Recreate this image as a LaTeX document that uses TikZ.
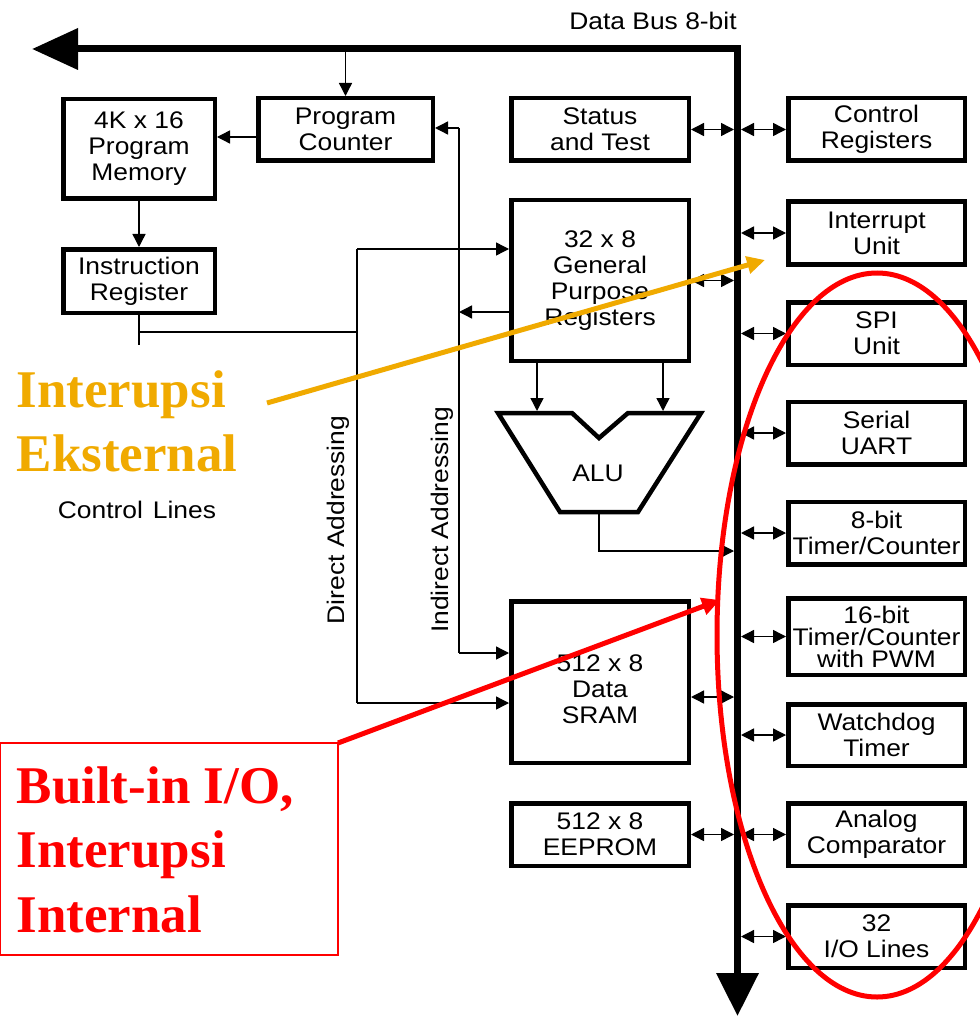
\documentclass[tikz,border=0pt]{standalone}
\usepackage{fontspec}
\setmainfont{Liberation Sans}[FakeStretch=1.1]
\newfontfamily\annofont{Liberation Serif}
\usetikzlibrary{arrows.meta}
\definecolor{annoorange}{RGB}{240,170,0}
\definecolor{annored}{RGB}{255,0,0}
\begin{document}
\begin{tikzpicture}[x=1pt,y=-1pt,line width=1.4pt,
  font=\fontsize{24}{26}\selectfont,
  box/.style={draw,line width=4.5pt,fill=white,inner sep=0pt,align=center},
  rbox/.style={box,minimum width=176.5pt,minimum height=62.5pt},
  lbox/.style={box,minimum width=177.5pt},
  arr/.style={-{Triangle[length=13pt,width=13pt]}},
  darr/.style={{Triangle[length=13pt,width=13pt]}-{Triangle[length=13pt,width=13pt]}},
  busline/.style={line width=7pt,line join=miter,{Triangle[length=46pt,width=40pt]}-{Triangle[length=43pt,width=41pt]}},
  annotext/.style={font=\annofont\bfseries\fontsize{53}{60}\selectfont,inner sep=0pt,anchor=base west},
  annoarr/.style={line width=5pt,-{Triangle[length=18pt,width=17pt]}}]
\fill[white] (0,0) rectangle (979,1016);
\useasboundingbox (0,0) rectangle (979,1016);

% data bus
\coordinate (busstart) at (32,49);
\coordinate (buscorner) at (737.5,49);
\coordinate (busend) at (737.5,1016);
\coordinate (busL) at (734,0);
\coordinate (busR) at (741,0);
\draw[busline] (busstart) -- (buscorner) -- (busend);
\node (dbt) at (653,21) {Data Bus 8-bit};

% left boxes
\node[box,minimum width=151.5pt,minimum height=99.5pt] (pm) at (139,149) {4K x 16\\Program\\Memory};
\node[box,minimum width=174.5pt,minimum height=62.5pt] (pc) at (345.5,129.5) {Program\\Counter};
\node[box,minimum width=151.5pt,minimum height=63.5pt] (ir) at (139,281) {Instruction\\Register};

% middle boxes
\node[lbox,minimum height=62.5pt] (st) at (600,129.5) {Status\\and Test};
\node[lbox,minimum height=160.5pt] (gpr) at (600,280.5) {32 x 8\\General\\Purpose\\Registers};
\node[lbox,minimum height=161.5pt] (sram) at (600,682) {};
\node[align=center] (sramt) at (600,689) {512 x 8\\Data\\SRAM};
\node[lbox,minimum height=62.5pt] (ee) at (600,834.5) {512 x 8\\EEPROM};

% ALU
\draw[line width=4.5pt,line join=miter] (498,413) -- (572,413) -- (599,438) -- (628,413) -- (701,413) -- (638,512) -- (560,512) -- cycle;
\node (alu) at (598,473) {ALU};

% right boxes
\node[rbox] (cr) at (876.5,129.5) {Control\\Registers};
\node[rbox] (iu) at (876.5,233) {Interrupt\\Unit};
\node[rbox] (spi) at (876.5,333.5) {SPI\\Unit};
\node[rbox] (uart) at (876.5,433) {Serial\\UART};
\node[rbox] (t8) at (876.5,533) {8-bit\\Timer/Counter};
\node[box,minimum width=176.5pt,minimum height=76.5pt,font=\fontsize{24}{22}\selectfont] (t16) at (876.5,636.5) {16-bit\\Timer/Counter\\with PWM};
\node[box,minimum width=176.5pt,minimum height=61.5pt] (wd) at (876.5,735) {Watchdog\\Timer};
\node[rbox] (ac) at (876.5,834.5) {Analog\\Comparator};
\node[rbox] (io) at (876.5,936.5) {32\\I/O Lines};

% bus connections
\draw[darr] (st.east) -- (st.east -| busL);
\draw[darr] (gpr.east) -- (gpr.east -| busL);
\draw[darr] ([yshift=-15pt]sram.east) -- ([yshift=-15pt]sram.east -| busL);
\draw[darr] (ee.east) -- (ee.east -| busL);
\foreach \n in {cr,iu,spi,uart,t8,t16,wd,ac,io}
  \draw[darr] (busR |- \n.west) -- (\n.west);

% program flow
\coordinate (pcin) at (345.5,49);
\draw[arr] (pcin) -- (pc.north);
\draw[arr] ([yshift=-7.5pt]pc.west) -- ([yshift=-7.5pt]pc.west -| pm.east);
\draw[arr] (pm.south) -- (ir.north);
\coordinate (irend) at (139,345);
\draw (ir.south) -- (irend);
\coordinate (irj) at (139,332);
\coordinate (daj) at (357,332);
\draw (irj) -- (daj);

% direct addressing
\coordinate (da1) at (357,249);
\coordinate (da2) at (357,703);
\draw (da1) -- (da2);
\draw[arr] (da1) -- (da1 -| gpr.west);
\draw[arr] (da2) -- (da2 -| sram.west);
\node[rotate=90] (dal) at (338,520) {Direct Addressing};

% indirect addressing
\coordinate (ia1) at (459,128);
\coordinate (ia2) at (459,653);
\coordinate (ia3) at (459,312);
\draw (ia1) -- (ia2);
\draw[arr] (ia1) -- (ia1 -| pc.east);
\draw[arr] (ia2) -- (ia2 -| sram.west);
\draw[arr] (ia3 -| gpr.west) -- (ia3);
\node[rotate=90] (ial) at (442,520) {Indirect Addressing};

% ALU connections
\coordinate (alua) at (537,411);
\coordinate (alub) at (663,411);
\draw[arr] (gpr.south -| alua) -- (alua);
\draw[arr] (gpr.south -| alub) -- (alub);
\coordinate (aluout) at (599,514);
\coordinate (alucorner) at (599,551);
\draw[arr] (aluout) -- (alucorner) -- (alucorner -| busL);

\node (cl) at (137,510) {Control\hspace{10pt}Lines};

% annotations
\node[annotext,text=annoorange] (ie1) at (16,407) {Interupsi};
\node[annotext,text=annoorange] (ie2) at (16,471) {Eksternal};
\coordinate (otail) at (267,403);
\coordinate (otip) at (765,260);
\draw[annoarr,annoorange] (otail) -- (otip);

\node[draw=annored,line width=1.4pt,inner sep=0pt,outer sep=0pt,minimum width=338pt,minimum height=212pt,anchor=north west] (redbox) at (0,743) {};
\node[annotext,text=annored] (ii1) at (16,803) {Built-in I/O,};
\node[annotext,text=annored] (ii2) at (16,867) {Interupsi};
\node[annotext,text=annored] (ii3) at (16,932) {Internal};
\coordinate (rtip) at (720,600);
\draw[annoarr,annored] (redbox.north east) -- (rtip);

\draw[annored,line width=5pt] (877,635) ellipse [x radius=160pt, y radius=362pt];
\end{tikzpicture}
\end{document}
